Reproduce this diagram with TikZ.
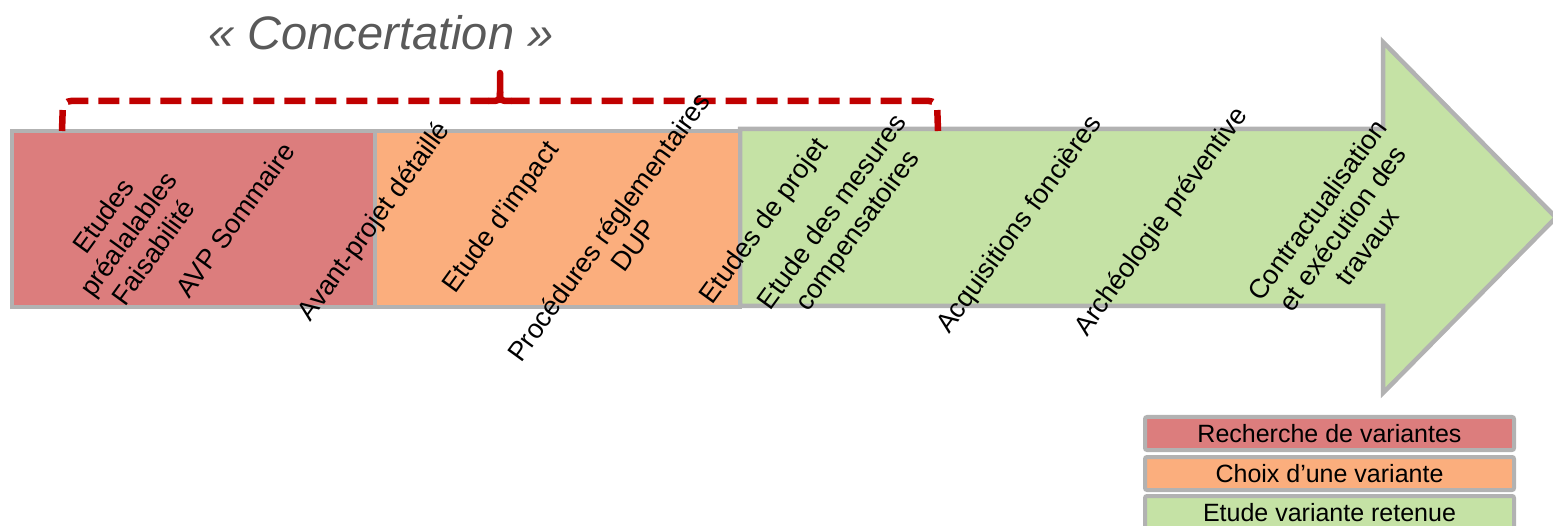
\documentclass[tikz,border=0pt]{standalone}
\usepackage{fontspec}
\setmainfont{Liberation Sans}
\begin{document}
\begin{tikzpicture}[x=1pt,y=-1pt]
\definecolor{cred}{RGB}{220,125,125}
\definecolor{corange}{RGB}{251,174,125}
\definecolor{cgreen}{RGB}{197,226,165}
\definecolor{cborder}{RGB}{178,178,178}
\definecolor{cbrace}{RGB}{192,0,0}
\definecolor{ctitle}{RGB}{89,89,89}
\tikzset{
 phase/.style={draw=cborder, line width=4.5pt, line join=miter},
 steplabel/.style={rotate=54, align=center, font=\fontsize{27}{31}\selectfont, inner sep=0pt},
 legendbox/.style={draw=cborder, line width=4pt, rounded corners=2pt, minimum width=369pt, minimum height=33pt, inner sep=0pt, font=\fontsize{25}{29}\selectfont},
 bracepath/.style={draw=cbrace, line width=6.5pt, dash pattern=on 21pt off 10pt, rounded corners=8pt},
 bracetip/.style={draw=cbrace, line width=6.5pt, line cap=round}
}
\useasboundingbox (0,0) rectangle (1553,526);
% phases
\path[phase, fill=cgreen] (740,129) -- (1383,129) -- (1383,42) -- (1556,217.5) -- (1383,393) -- (1383,306) -- (740,306) -- cycle;
\path[phase, fill=corange] (375,131) rectangle (740,307);
\path[phase, fill=cred] (12,131) rectangle (375,307);
% brace
\draw[bracepath] (62,131) -- (63,101) -- (489,101);
\draw[bracepath] (938,131) -- (937,101) -- (511,101);
\draw[bracetip] (489,101) .. controls (500,101) .. (500,92) -- (500,73);
\draw[bracetip] (511,101) .. controls (500,101) .. (500,92);
% title
\node[anchor=base, font=\fontsize{47}{50}\selectfont\itshape, text=ctitle, inner sep=0pt] (title) at (381,50) {« Concertation »};
% step labels
\node[steplabel] (s1) at (128,234) {Etudes\\préalalables\\Faisabilité};
\node[steplabel] (s2) at (235,220) {AVP Sommaire};
\node[steplabel] (s3) at (375,222) {Avant-projet détaillé};
\node[steplabel] (s4) at (502,218) {Etude d’impact};
\node[steplabel] (s5) at (621,236) {Procédures réglementaires\\DUP};
\node[steplabel] (s6) at (765,222) {Etudes de projet};
\node[steplabel] (s7) at (846,222) {Etude des mesures\\compensatoires};
\node[steplabel] (s8) at (1020,225) {Acquisitions foncières};
\node[steplabel] (s9) at (1162,222) {Archéologie préventive};
\node[steplabel] (s10) at (1342,228) {Contractualisation\\et exécution des\\travaux};
% legend
\node[legendbox, fill=cred] (l1) at (1329.5,433.5) {Recherche de variantes};
\node[legendbox, fill=corange] (l2) at (1329.5,473.5) {Choix d’une variante};
\node[legendbox, fill=cgreen] (l3) at (1329.5,512.5) {Etude variante retenue};
\end{tikzpicture}
\end{document}
